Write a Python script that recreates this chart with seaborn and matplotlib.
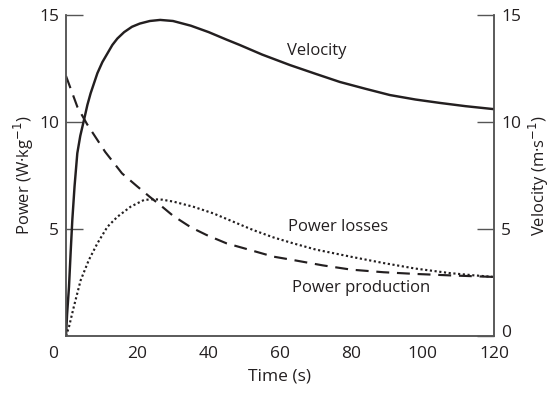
import matplotlib
matplotlib.use("Agg")
import matplotlib.pyplot as plt
import matplotlib.transforms as mtransforms
import seaborn as sns
import pandas as pd

# ---- data ----
vel_t = [0, 0.3, 0.84, 1.3, 1.77, 2.4, 3.17, 4.0, 5.05, 6.0, 6.9, 8.8, 10.2, 11.6, 13.0, 14.4, 16.3, 18.5, 20.7,
         23.5, 26.4, 30, 35, 40, 45, 48.7, 55, 62.8, 70, 76.8, 84, 90.8, 98, 104.9, 112, 120]
vel_v = [0, 1.0, 2.3, 3.9, 5.42, 7.0, 8.54, 9.35, 10.1, 10.8, 11.34, 12.28, 12.8, 13.2, 13.6, 13.9, 14.2, 14.45, 14.6,
         14.72, 14.77, 14.72, 14.5, 14.2, 13.85, 13.6, 13.15, 12.66, 12.25, 11.87, 11.55, 11.26, 11.05, 10.89, 10.74, 10.6]

prod_t = [0, 3.2, 5.9, 8.8, 11.0, 13.5, 15.7, 19.9, 23.5, 26.4, 30, 35, 39.4, 45, 51.6, 58.1, 63.7, 72, 80, 89, 98, 108, 120]
prod_p = [12.15, 10.7, 9.9, 9.16, 8.6, 8.07, 7.6, 7.0, 6.5, 6.12, 5.62, 5.08, 4.72, 4.33, 4.02, 3.71, 3.55, 3.3, 3.1,
          2.98, 2.9, 2.83, 2.76]

loss_t = [0, 0.84, 2.2, 4.1, 6.4, 8.8, 11.6, 14.4, 18.1, 21.9, 24.5, 27, 30.1, 35.7, 41.3, 46.9, 52.5, 58.1, 63.7,
          70, 80, 89, 98, 107.6, 114, 120]
loss_p = [0, 0.43, 1.37, 2.6, 3.55, 4.33, 5.1, 5.57, 6.04, 6.36, 6.39, 6.37, 6.28, 6.04, 5.73, 5.34, 4.95, 4.61, 4.33,
          4.04, 3.7, 3.41, 3.15, 2.94, 2.84, 2.76]

x_ticks = [0, 20, 40, 60, 80, 100, 120]
left_ticks = [5, 10, 15]
right_ticks = [0, 5, 10, 15]

sns.set_theme(style="white")
plt.rcParams['font.family'] = ['Open Sans', 'DejaVu Sans']
INK = '#231f20'
SPINE = '#555555'
plt.rcParams['text.color'] = INK
plt.rcParams['axes.labelcolor'] = INK
plt.rcParams['xtick.color'] = INK
plt.rcParams['ytick.color'] = INK

fig = plt.figure(figsize=(5.52, 3.94), dpi=100)
ax = fig.add_axes([66/552, 1 - 336/394, (494-66)/552, (336-15)/394])
ax2 = ax.twinx()

df_p = pd.DataFrame({"t": prod_t, "p": prod_p})
df_l = pd.DataFrame({"t": loss_t, "p": loss_p})
df_v = pd.DataFrame({"t": vel_t, "v": vel_v})

sns.lineplot(data=df_p, x="t", y="p", ax=ax, color=INK, lw=1.55, sort=False, estimator=None)
ax.lines[-1].set_linestyle((0, (6, 3.6)))
sns.lineplot(data=df_l, x="t", y="p", ax=ax, color=INK, lw=1.55, sort=False, estimator=None)
ax.lines[-1].set_linestyle((0, (1, 1.2)))
sns.lineplot(data=df_v, x="t", y="v", ax=ax2, color=INK, lw=1.75, sort=False, estimator=None)
for a in (ax, ax2):
    for ln in a.lines:
        ln.set_solid_joinstyle('round')
        ln.set_dash_capstyle('butt')

for a in (ax, ax2):
    a.set_xlim(0, 120)
    a.set_ylim(0, 15)
    a.spines['top'].set_visible(False)
    for s in ('left', 'right', 'bottom'):
        a.spines[s].set_color(SPINE)
        a.spines[s].set_linewidth(1.1)
    a.set_facecolor('none')

ax.set_xticks(x_ticks)
ax.set_xticklabels([str(v) for v in x_ticks])
ax.set_yticks(left_ticks)
ax.set_yticklabels([str(v) for v in left_ticks])
ax2.set_yticks(right_ticks)
ax2.set_yticklabels([str(v) for v in right_ticks])

FS = 12.5
ax.tick_params(axis='x', direction='in', length=12.5, width=1.0, color=SPINE, labelsize=FS, pad=7)
ax.tick_params(axis='y', direction='in', length=12.5, width=1.0, color=SPINE, labelsize=FS, pad=5,
               left=True, right=False)
ax2.tick_params(axis='y', direction='in', length=12.5, width=1.0, color=SPINE, labelsize=FS, pad=5,
                right=True, left=False)

# corner labels nudged as in the reference
lbl0 = ax.get_xticklabels()[0]
lbl0.set_transform(lbl0.get_transform() + mtransforms.ScaledTranslation(-13/100, 0, fig.dpi_scale_trans))
rl0 = ax2.get_yticklabels()[0]
rl0.set_transform(rl0.get_transform() + mtransforms.ScaledTranslation(0, 5/100, fig.dpi_scale_trans))

ax.set_xlabel("Time (s)", fontsize=FS, labelpad=5)
ax.set_ylabel("Power (W·kg$^{-1}$)", fontsize=12, labelpad=2)
ax2.set_ylabel("Velocity (m·s$^{-1}$)", fontsize=12, labelpad=4)

ax.text(70.4, 13.3, "Velocity", fontsize=12, ha='center', va='center')
ax.text(76.3, 5.1, "Power losses", fontsize=12, ha='center', va='center')
ax.text(82.8, 2.24, "Power production", fontsize=12, ha='center', va='center')

fig.savefig("out.png", dpi=100)
